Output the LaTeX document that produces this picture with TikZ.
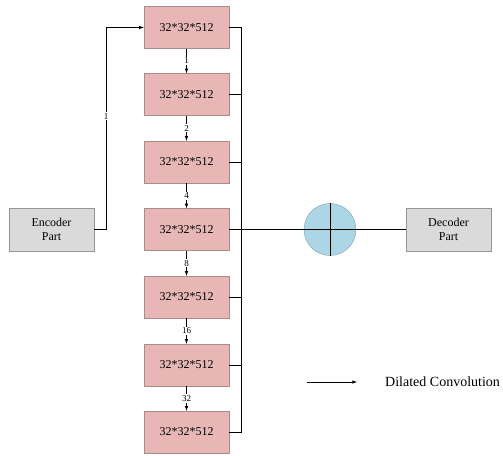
\documentclass[tikz,border=0pt]{standalone}
\usepackage{fontspec}
\setmainfont{Liberation Serif}
\usepackage{tikz}
\usetikzlibrary{arrows,shapes,positioning,calc}

\definecolor{featpink}{RGB}{232,182,180}
\definecolor{featedge}{RGB}{170,140,138}
\definecolor{partgray}{RGB}{218,218,218}
\definecolor{partedge}{RGB}{150,150,150}
\definecolor{sumblue}{RGB}{172,214,230}
\definecolor{sumedge}{RGB}{120,160,180}

\tikzset{
	feat/.style={draw=featedge, fill=featpink, minimum width=85pt, minimum height=42pt, inner sep=0pt, font=\fontsize{12}{14}\selectfont},
	part/.style={draw=partedge, fill=partgray, minimum width=85pt, minimum height=43pt, inner sep=0pt, align=center, font=\fontsize{12}{14}\selectfont},
	rate/.style={fill=white, inner sep=1pt, font=\fontsize{9}{10}\selectfont},
	wire/.style={line width=0.6pt},
}

\begin{document}
\begin{tikzpicture}[x=1pt,y=-1pt]
				\useasboundingbox (0,0) rectangle (503,455);
				
				% feature maps of the bridge
				\foreach \i/\y in {1/27.5,2/94.5,3/162,4/229.5,5/297,6/365,7/432}
				\node [feat] (b\i) at (186.5,\y) {32*32*512};
				
				\node [part] (enc) at (51.5,229.5) {Encoder\\Part};
				\node [part] (dec) at (448.5,229.5) {Decoder\\Part};
				\node [draw=sumedge, fill=sumblue, circle, minimum size=52pt, inner sep=0pt] (sum) at (330,229.5) {};
				
				% % % % % % % % % % % % % % % % % % % % % % % % % %
				
				\draw [wire, -latex] (enc.east) -- ++(12,0) |- node [rate, pos=0.28] {1} (b1.west);
				
				\foreach \i/\j/\d in {1/2/1,2/3/2,3/4/4,4/5/8,5/6/16,6/7/32}
				\draw [wire, -latex] (b\i.south) -- node [rate] {\d} (b\j.north);
				
				\draw [wire] (b1.east) -- ++(12,0) coordinate (bus) |- (b7.east);
				\foreach \i in {2,3,5,6}
				\draw [wire] (b\i.east) -- (b\i.east -| bus);
				
				\draw [wire] (b4.east) -- (dec.west);
				\draw [wire] (sum.north) -- (sum.south);
				
				% legend
				\coordinate (lega) at (307,382);
				\coordinate (legb) at (357,382);
				\draw [wire, -latex] (lega) -- (legb);
				\node [right, inner sep=0pt, font=\fontsize{14}{16}\selectfont] (legt) at (385,382) {Dilated Convolution};
\end{tikzpicture}
\end{document}
